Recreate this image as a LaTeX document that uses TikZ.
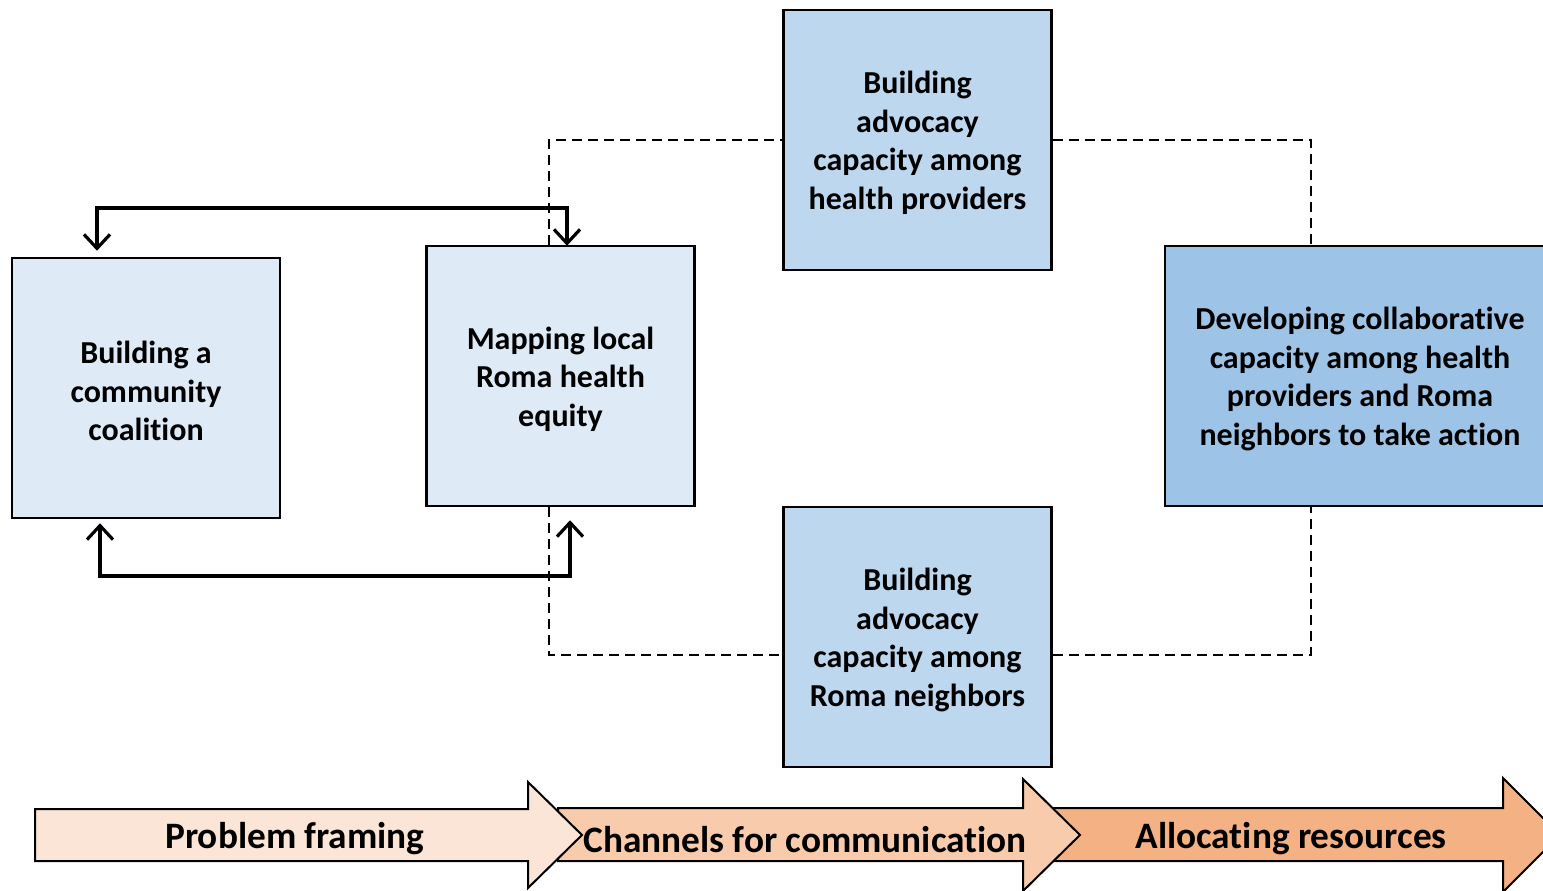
\documentclass[tikz,border=0pt]{standalone}
\usepackage{fontspec}
\setmainfont{Carlito}[RawFeature=-liga]
\usetikzlibrary{arrows.meta}
\definecolor{boxlight}{HTML}{DEEBF7}
\definecolor{boxmid}{HTML}{BDD7EE}
\definecolor{boxdark}{HTML}{9DC3E6}
\definecolor{arrowone}{HTML}{FBE5D6}
\definecolor{arrowtwo}{HTML}{F8CBAD}
\definecolor{arrowthree}{HTML}{F4B183}
\tikzset{
  stagebox/.style={draw=black, line width=2.5pt, minimum width=268pt, minimum height=260pt, inner sep=0pt},
  boxtext/.style={align=center, inner sep=0pt, yshift=-3pt, font=\bfseries\fontsize{32}{38.5}\selectfont},
  conn/.style={line width=3.2pt, {Straight Barb[length=14pt,width=26pt,line width=3.2pt]}-{Straight Barb[length=14pt,width=26pt,line width=3.2pt]}},
  dashconn/.style={line width=2.4pt, dash pattern=on 10pt off 6pt},
  phase/.style={draw=black, line width=2pt, line join=miter},
  phasetext/.style={font=\bfseries\fontsize{37.3}{40}\selectfont, inner sep=0pt}
}
\begin{document}
\begin{tikzpicture}[x=1pt,y=-1pt]
\useasboundingbox (0,0) rectangle (1543,891);
\clip (0,0) rectangle (1543,891);
% boxes
\node[stagebox, fill=boxlight, label={[boxtext]center:{Building a\\community\\coalition}}] (A) at (146,388) {};
\node[stagebox, fill=boxlight, label={[boxtext]center:{Mapping local\\Roma health\\equity}}] (B) at (560.5,376) {};
\node[stagebox, fill=boxmid, label={[boxtext]center:{Building\\advocacy\\capacity among\\health providers}}] (C) at (917.5,140) {};
\node[stagebox, fill=boxmid, label={[boxtext]center:{Building\\advocacy\\capacity among\\Roma neighbors}}] (D) at (917.5,637) {};
\node[stagebox, fill=boxdark, minimum width=390pt, label={[boxtext]center:{Developing collaborative\\capacity among health\\providers and Roma\\neighbors to take action}}] (E) at (1360,376) {};
% dashed connectors
\draw[dashconn] ([xshift=-11.5pt]B.north) |- (C.west);
\draw[dashconn] (C.east) -| ([xshift=-49pt]E.north);
\draw[dashconn] ([xshift=-11.5pt]B.south) |- ([yshift=-18pt]D.west);
\draw[dashconn] ([yshift=-18pt]D.east) -| ([xshift=-49pt]E.south);
% solid feedback connectors
\coordinate (a1) at ([xshift=-49pt,yshift=6pt]A.north);
\coordinate (b1) at ([xshift=6.5pt,yshift=-1pt]B.north);
\coordinate (topline) at (0,208);
\draw[conn] (a1) |- (topline -| b1) -- (b1);
\coordinate (a2) at ([xshift=-46pt,yshift=-4pt]A.south);
\coordinate (b2) at ([xshift=9.5pt,yshift=-13pt]B.south);
\coordinate (botline) at (0,576);
\draw[conn] (a2) |- (botline -| b2) -- (b2);
% phase arrows
\draw[phase, fill=arrowthree] (1052,808) -- (1503,808) -- (1503,778) -- (1560,835) -- (1503,892) -- (1503,861) -- (1052,861) -- cycle;
\draw[phase, fill=arrowtwo] (558,808) -- (1023,808) -- (1023,779) -- (1080,835) -- (1023,891) -- (1023,861) -- (558,861) -- cycle;
\draw[phase, fill=arrowone] (35,809) -- (528,809) -- (528,782) -- (582,835) -- (528,888) -- (528,861) -- (35,861) -- cycle;
\node[phasetext] (P1) at (295,839) {Problem framing};
\node[phasetext] (P2) at (805,840) {Channels for communication};
\node[phasetext] (P3) at (1291,839) {Allocating resources};
\end{tikzpicture}
\end{document}
